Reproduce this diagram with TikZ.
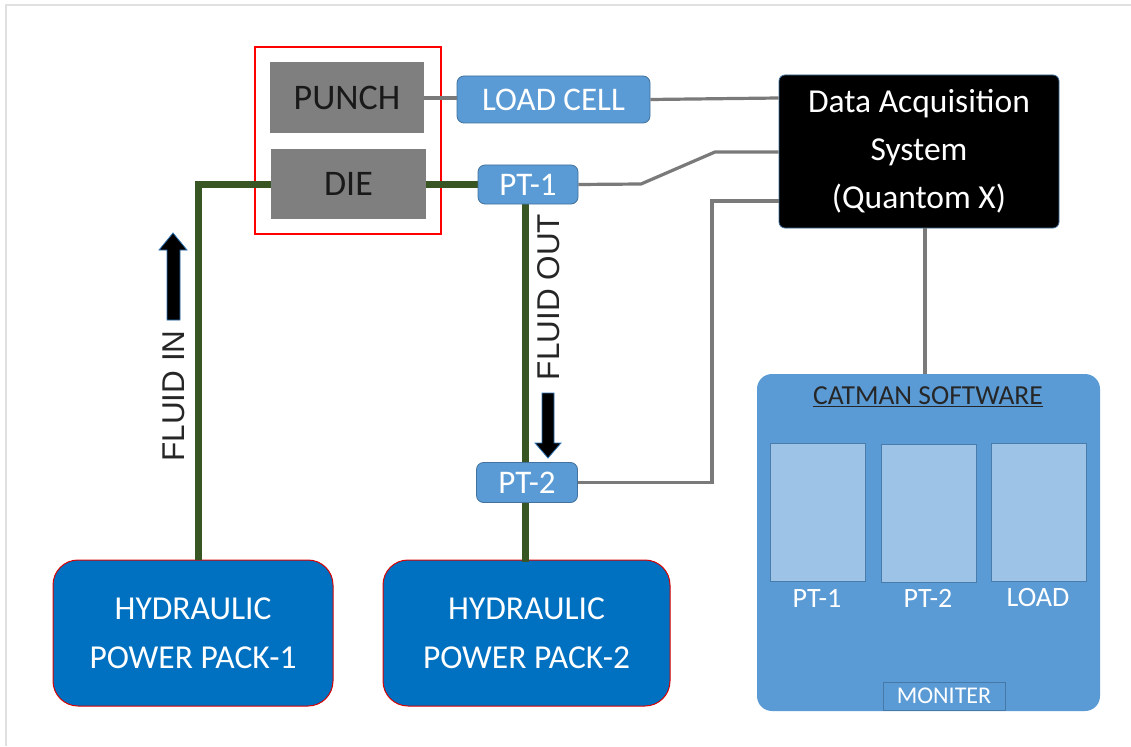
\documentclass[tikz,border=0pt]{standalone}
\usepackage{fontspec}
\setmainfont{Carlito}
\newfontfamily\arialf{Liberation Sans}
\usetikzlibrary{fit}
\definecolor{boxgray}{HTML}{7F7F7F}
\definecolor{lblue}{HTML}{5B9BD5}
\definecolor{lblueedge}{HTML}{41719C}
\definecolor{dblue}{HTML}{0070C0}
\definecolor{panelblue}{HTML}{9DC3E6}
\definecolor{pipegreen}{HTML}{375623}
\definecolor{wiregray}{HTML}{7A7A7A}
\definecolor{framegray}{HTML}{E0E0E0}
\definecolor{arrowedge}{HTML}{2E75B6}
\tikzset{
  graybox/.style={draw=none, fill=boxgray, minimum width=154pt, minimum height=71pt, inner sep=0pt, text=black!90, font=\fontsize{36}{40}\selectfont},
  bluebox/.style={draw=lblueedge, line width=0.8pt, fill=lblue, rounded corners=7pt, inner sep=0pt, text=white, font=\fontsize{33}{38}\selectfont},
  daqbox/.style={draw=lblueedge, line width=0.8pt, fill=black, rounded corners=6pt, inner sep=0pt, text=white, align=center, font=\fontsize{33.5}{48}\selectfont},
  hppbox/.style={draw=red!85!black, line width=1pt, fill=dblue, rounded corners=25pt, inner sep=0pt, text=white, align=center, minimum height=146pt, font=\fontsize{33.5}{49}\selectfont},
  catbox/.style={draw=none, fill=lblue, rounded corners=15pt, inner sep=0pt, minimum width=343pt, minimum height=337pt},
  panelbox/.style={draw=lblue!80!black, line width=0.6pt, fill=panelblue, inner sep=0pt, minimum width=95pt, minimum height=138pt},
  panellabel/.style={text=white, inner sep=0pt, font=\fontsize{28}{32}\selectfont},
  monbox/.style={draw=lblueedge!80!lblue, line width=1pt, fill=lblue, inner sep=0pt, minimum width=122pt, minimum height=28pt, text=white, font=\fontsize{24}{28}\selectfont},
  redframe/.style={draw=red, line width=2pt, inner sep=15pt},
  pipe/.style={draw=pipegreen, line width=7pt},
  wire/.style={draw=wiregray, line width=3.2pt},
  blockarrow/.style={fill=black, draw=arrowedge, line width=0.8pt, line join=miter},
  fluidtext/.style={inner sep=0pt, rotate=90, font=\arialf\fontsize{31.5}{34}\selectfont, text=black!85}
}
\begin{document}
\begin{tikzpicture}[x=1pt, y=-1pt]
\useasboundingbox (0,0) rectangle (1131,746);
\fill[white] (0,0) rectangle (1131,746);
% outer frame (top and left visible)
\draw[framegray, line width=2pt] (6,746) -- (6,5) -- (1131,5);

% nodes
\node[graybox] (punch) at (347,98) {PUNCH};
\node[graybox, minimum height=70pt, minimum width=155pt] (die) at (348.5,184) {DIE};
\node[redframe, fit=(punch)(die)] (frame) {};
\node[bluebox, minimum width=193pt, minimum height=47pt] (load) at (553.5,99.5) {LOAD CELL};
\node[daqbox, minimum width=280pt, minimum height=153pt] (daq) at (919,151.5) {Data Acquisition\\System\\(Quantom X)};
\node[hppbox, minimum width=280pt] (hpp1) at (193,633) {HYDRAULIC\\POWER PACK-1};
\node[hppbox, minimum width=287pt] (hpp2) at (526.5,633) {HYDRAULIC\\POWER PACK-2};
\node[catbox] (cat) at (928.5,542.5) {};

% pipes
\draw[pipe] ([xshift=5pt]hpp1.north) |- (die.west);
\draw[pipe] (die.east) -- (die.east -| 480,0);
\draw[pipe] (525,200) -- (525,562);

\node[bluebox, minimum width=100pt, minimum height=39pt] (pt1) at (528,184.5) {PT-1};
\node[bluebox, minimum width=101pt, minimum height=40pt] (pt2) at (527,482.5) {PT-2};

% wires
\draw[wire] (punch.east) -- (punch.east -| load.west);
\draw[wire] (load.east) -- (daq.west |- 0,98);
\coordinate (b1) at (641,184);
\coordinate (b2) at (715,152);
\draw[wire] (pt1.east) -- (b1) -- (b2) -- (daq.west |- b2);
\coordinate (c2) at (712,201);
\draw[wire] (pt2.east) -| (c2) -- (daq.west |- c2);
\draw[wire] (daq.south -| 925,0) -- (cat.north -| 925,0);

% catman contents
\node[inner sep=0pt, text=black!85, font=\fontsize{27.5}{30}\selectfont] (cattitle) at (928,397) {\underline{CATMAN SOFTWARE}};
\node[panelbox] (p1) at (817.5,512) {};
\node[panelbox] (p2) at (928.5,513) {};
\node[panelbox] (p3) at (1039,512) {};
\node[panellabel] (l1) at (817,598) {PT-1};
\node[panellabel] (l2) at (928,598) {PT-2};
\node[panellabel] (l3) at (1038,598) {LOAD};
\node[monbox] (mon) at (944,696) {MONITER};

% flow arrows and labels
\draw[blockarrow] (167,320) -- (167,250) -- (159,250) -- (173,233) -- (187,250) -- (180,250) -- (180,320) -- cycle;
\node[fluidtext] (fin) at (174,396) {FLUID IN};
\draw[blockarrow] (542,393) -- (542,443) -- (535,443) -- (548,458) -- (561,443) -- (554,443) -- (554,393) -- cycle;
\node[fluidtext] (fout) at (549,297) {FLUID OUT};
\end{tikzpicture}
\end{document}
